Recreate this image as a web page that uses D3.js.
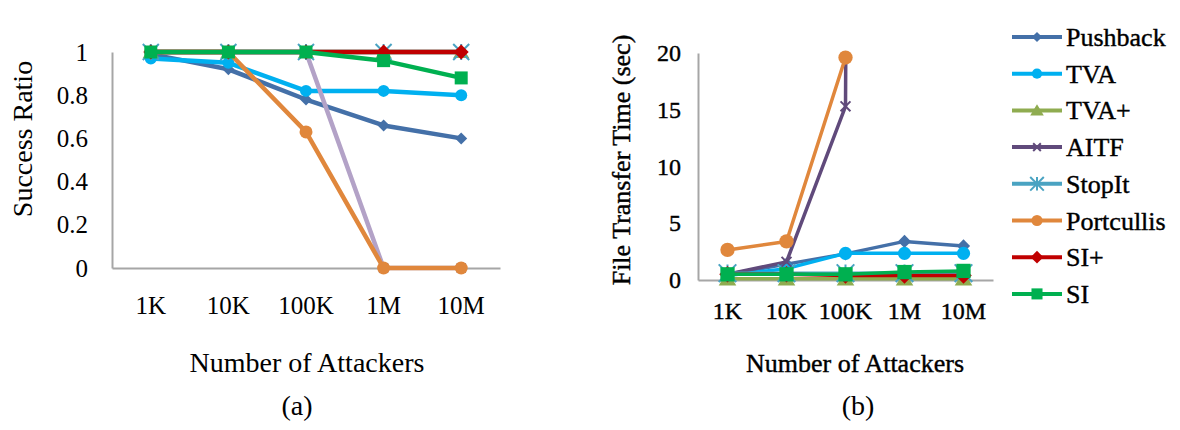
<!DOCTYPE html>
<html>
<head>
<meta charset="utf-8">
<title>Success ratio and file transfer time</title>
<script src="https://d3js.org/d3.v7.min.js"></script>
<style>
body { margin: 0; background: #fff; }
text { font-family: "Liberation Serif", "Times New Roman", serif; fill: #000; }
.heavy text, text.heavy { stroke: #000; stroke-width: 0.4px; }
.axis path { stroke: #a6a6a6; stroke-width: 2px; }
</style>
</head>
<body>
<script>

// categories on both x axes
var categories = ["1K", "10K", "100K", "1M", "10M"];
var seriesNames = ["Pushback", "TVA", "TVA+", "AITF", "StopIt", "Portcullis", "SI+", "SI"];

// (a) success ratio
var ratioPushback   = [0.99, 0.92, 0.78, 0.66, 0.60];
var ratioTVA        = [0.97, 0.95, 0.82, 0.82, 0.80];
var ratioTVAplus    = [1, 1, 1, 1, 1];
var ratioAITF       = [1, 1, 1, 0, 0];
var ratioStopIt     = [1, 1, 1, 1, 1];
var ratioPortcullis = [1, 1, 0.63, 0, 0];
var ratioSIplus     = [1, 1, 1, 1, 1];
var ratioSI         = [1, 1, 1, 0.96, 0.88];
var ratioTicks = [0, 0.2, 0.4, 0.6, 0.8, 1];

// (b) file transfer time (sec); AITF goes off the scale after 100K
var timePushback   = [0.5, 1.4, 2.3, 3.4, 3.0];
var timeTVA        = [0.4, 1.0, 2.35, 2.35, 2.35];
var timeTVAplus    = [0.1, 0.1, 0.1, 0.1, 0.1];
var timeAITF       = [0.5, 1.6, 15.3, 1000, 1000];
var timeStopIt     = [0.6, 0.6, 0.6, 0.6, 0.6];
var timePortcullis = [2.65, 3.4, 19.6, null, null];
var timeSIplus     = [0.5, 0.5, 0.4, 0.4, 0.4];
var timeSI         = [0.5, 0.5, 0.5, 0.7, 0.8];
var timeTicks = [0, 5, 10, 15, 20];

var colors = {
  "Pushback": "#4470a8", "TVA": "#00b0f0", "TVA+": "#8fac50", "AITF": "#604a7b",
  "StopIt": "#4aa3c2", "Portcullis": "#e0873c", "SI+": "#c00000", "SI": "#00b050"
};
var markers = {
  "Pushback": "diamond", "TVA": "circle", "TVA+": "triangle", "AITF": "x",
  "StopIt": "star", "Portcullis": "circle", "SI+": "diamond", "SI": "square"
};
var markerSize = {
  "Pushback": 6, "TVA": 6, "TVA+": 8, "AITF": 4.5,
  "StopIt": 8, "Portcullis": 6.5, "SI+": 7.5, "SI": 6.5
};

function markerPath(type, s) {
  if (type == "circle") return d3.symbol(d3.symbolCircle, Math.PI * s * s)();
  if (type == "square") return "M" + -s + "," + -s + "H" + s + "V" + s + "H" + -s + "Z";
  if (type == "diamond") return "M0," + -s + "L" + s + ",0L0," + s + "L" + -s + ",0Z";
  if (type == "triangle") return "M0," + (-s * 0.9) + "L" + s + "," + (s * 0.75) + "L" + -s + "," + (s * 0.75) + "Z";
  if (type == "x") return "M" + -s + "," + -s + "L" + s + "," + s + "M" + s + "," + -s + "L" + -s + "," + s;
  // star = x plus vertical stroke
  return "M" + -s + "," + -s + "L" + s + "," + s + "M" + s + "," + -s + "L" + -s + "," + s + "M0," + -s + "L0," + s;
}

var svg = d3.select("body").append("svg")
    .attr("width", 1180)
    .attr("height", 430);

svg.append("defs").append("clipPath").attr("id", "clipB")
  .append("rect").attr("x", 640).attr("y", 53).attr("width", 400).attr("height", 260);

function drawPanel(p) {
  var x = d3.scaleBand().domain(categories).range([p.left, p.right]);
  var y = d3.scaleLinear().domain([0, p.ticks[p.ticks.length - 1]]).range([p.bottom, p.top]);
  var g = svg.append("g").attr("class", p.heavy ? "heavy" : null);

  g.append("g").attr("class", "axis")
    .attr("transform", "translate(" + p.left + ",0)")
    .call(d3.axisLeft(y).tickValues(p.ticks).tickSize(0).tickPadding(p.yPad).tickFormat(d3.format("")))
    .call(function(a) { a.selectAll("text").style("font-size", p.tickFont + "px").style("font-family", null); });

  g.append("g").attr("class", "axis")
    .attr("transform", "translate(0," + p.bottom + ")")
    .call(d3.axisBottom(x).tickSize(0).tickPadding(p.xPad))
    .call(function(a) { a.selectAll("text").style("font-size", p.tickFont + "px").style("font-family", null); });

  var line = d3.line()
    .defined(function(d) { return d != null; })
    .x(function(d, i) { return x(categories[i]) + x.bandwidth() / 2; })
    .y(function(d) { return y(d); });

  seriesNames.forEach(function(name, k) {
    var values = p.values[k];
    var col = (p.lineColors && p.lineColors[name]) || colors[name];
    var grp = g.append("g");
    grp.append("path")
      .attr("clip-path", p.clip ? "url(#" + p.clip + ")" : null)
      .attr("d", line(values))
      .attr("fill", "none")
      .attr("stroke", col)
      .attr("stroke-width", p.lineWidth)
      .attr("stroke-linejoin", "round");
    var type = markers[name];
    var open = type == "x" || type == "star";
    grp.selectAll("path.m")
      .data(values.map(function(v, i) { return { v: v, c: categories[i] }; }).filter(function(d) { return d.v != null; }))
      .enter().append("path")
      .attr("class", "m")
      .attr("transform", function(d) { return "translate(" + (x(d.c) + x.bandwidth() / 2) + "," + y(d.v) + ")"; })
      .attr("d", markerPath(type, markerSize[name] * p.markerScale))
      .attr("fill", open ? "none" : colors[name])
      .attr("stroke", colors[name])
      .attr("stroke-width", open ? 2 : 0);
  });

  g.append("text")
    .attr("transform", "translate(" + p.yTitleX + "," + p.yTitleY + ") rotate(-90)")
    .style("text-anchor", "middle")
    .style("font-size", p.titleFont + "px")
    .text(p.yTitle);

  g.append("text")
    .attr("x", p.xTitleX).attr("y", 372)
    .style("text-anchor", "middle")
    .style("font-size", p.titleFont + "px")
    .text("Number of Attackers");

  g.append("text")
    .attr("x", p.label.x).attr("y", 415)
    .style("text-anchor", "middle")
    .style("font-size", "28px")
    .style("stroke", "none")
    .text(p.label.t);
}

drawPanel({
  left: 112, right: 500, top: 52, bottom: 268,
  ticks: ratioTicks, yPad: 24, xPad: 28, tickFont: 25, titleFont: 28,
  values: [ratioPushback, ratioTVA, ratioTVAplus, ratioAITF, ratioStopIt, ratioPortcullis, ratioSIplus, ratioSI],
  lineColors: { "AITF": "#b3a2c7" },
  lineWidth: 4.5, markerScale: 1,
  yTitle: "Success Ratio", yTitleX: 32, yTitleY: 139, xTitleX: 307,
  label: { x: 297, t: "(a)" }
});

drawPanel({
  left: 698, right: 993, top: 53, bottom: 280, heavy: true, clip: "clipB",
  ticks: timeTicks, yPad: 17, xPad: 22, tickFont: 24, titleFont: 26,
  values: [timePushback, timeTVA, timeTVAplus, timeAITF, timeStopIt, timePortcullis, timeSIplus, timeSI],
  lineWidth: 3.5, markerScale: 1.1,
  yTitle: "File Transfer Time (sec)", yTitleX: 630, yTitleY: 160, xTitleX: 855,
  label: { x: 858, t: "(b)" }
});

// legend
var legend = svg.selectAll(".legend")
    .data(seriesNames)
    .enter().append("g")
    .attr("class", "legend")
    .attr("transform", function(d, i) { return "translate(1012," + (37 + i * 36.7) + ")"; });

legend.append("line")
  .attr("x1", 0).attr("x2", 50)
  .attr("stroke", function(d) { return colors[d]; })
  .attr("stroke-width", 4);

legend.append("path")
  .attr("transform", "translate(25,0)")
  .attr("d", function(d) { return markerPath(markers[d], markerSize[d] * 0.85); })
  .attr("fill", function(d) { return (markers[d] == "x" || markers[d] == "star") ? "none" : colors[d]; })
  .attr("stroke", function(d) { return colors[d]; })
  .attr("stroke-width", function(d) { return (markers[d] == "x" || markers[d] == "star") ? 2 : 0; });

legend.append("text")
  .attr("class", "heavy")
  .attr("x", 54)
  .attr("y", 9)
  .style("font-size", "26px")
  .text(function(d) { return d; });

</script>
</body>
</html>
